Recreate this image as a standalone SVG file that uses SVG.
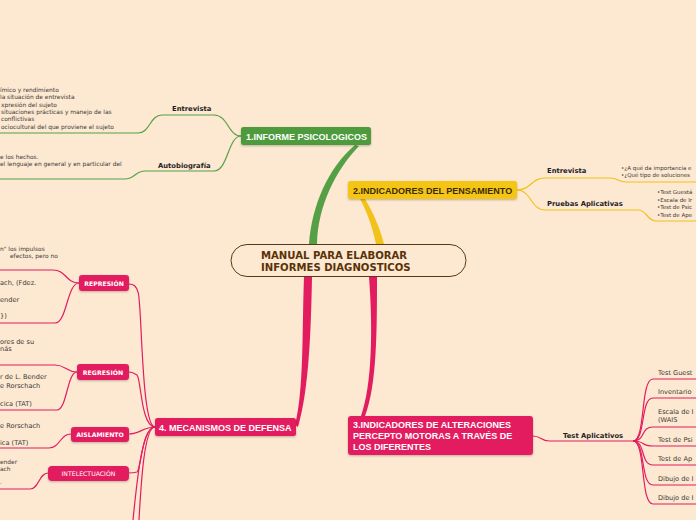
<svg xmlns="http://www.w3.org/2000/svg" width="696" height="520" viewBox="0 0 696 520">
<defs>
<style>
.bg{fill:#fde8d1}
.t{font-family:"DejaVu Sans",Verdana,sans-serif;fill:#3a3a3a}
.s{font-size:5.9px}
.m{font-size:6.6px}
.b{font-family:"DejaVu Sans",Verdana,sans-serif;font-weight:bold;font-size:6.8px;fill:#1e1e1e}
.nt{font-family:"Liberation Sans",Arial,sans-serif;font-weight:bold;font-size:9px;fill:#fff}
.st{font-family:"DejaVu Sans",Verdana,sans-serif;font-weight:bold;font-size:6.2px;fill:#fff;text-anchor:middle}
.g{fill:none;stroke:#55a047;stroke-width:1.2}
.y{fill:none;stroke:#f2c21a;stroke-width:1.2}
.p{fill:none;stroke:#e31c5f;stroke-width:1.2}
.pn{fill:#e31c5f}
</style>
<filter id="sh" x="-10%" y="-20%" width="120%" height="160%"><feDropShadow dx="0" dy="1" stdDeviation="0.8" flood-color="#000" flood-opacity="0.25"/></filter>
</defs>
<rect class="bg" x="0" y="0" width="696" height="520"/>

<g id="connectors">
<path d="M309,244 C312,205 328,168 355,145 L359,146 C336,170 318,205 317,244 Z" fill="#55a047"/>
<path d="M376,244 C372,225 366,210 360,199 L365,199 C373,212 380,228 384,244 Z" fill="#f2c21a"/>
<path d="M369,277 C373,330 372,385 361,416 L365,416 C377,385 377,330 377,277 Z" fill="#e31c5f"/>
<path d="M304,277 C302,330 304,390 295,425 L298,427 C309,390 311,330 312,277 Z" fill="#e31c5f"/>
<path class="g" d="M241,136 C228,136 228,115 214,115 L162,115 C150,115 150,133 138,133 L0,133"/>
<path class="g" d="M241,136 C228,136 228,171 214,171 L145,171 C135,171 135,179 125,179 L0,179"/>
<path class="y" d="M517,190 C531,190 531,178 545,178 L610,178 C618,178 618,182 626,182 L696,182"/>
<path class="y" d="M517,190 C531,190 531,210 545,210 L638,210 C647,210 647,221 656,221 L696,221"/>
<path class="p" d="M533,436 C541,436 541,441 549,441 L633,441"/>
<path class="p" d="M633,441 C646,441 640,379 653,379 L696,379"/>
<path class="p" d="M633,441 C646,441 640,398 653,398 L696,398"/>
<path class="p" d="M633,441 C646,441 640,427 653,427 L696,427"/>
<path class="p" d="M633,441 C646,441 640,446 653,446 L696,446"/>
<path class="p" d="M633,441 C646,441 640,465 653,465 L696,465"/>
<path class="p" d="M633,441 C646,441 640,485 653,485 L696,485"/>
<path class="p" d="M633,441 C646,441 640,504 653,504 L696,504"/>
<path class="p" d="M155,427 C141,427 142,300 138,292 C136,286 134,284 129,284"/>
<path class="p" d="M155,427 C141,427 141,378 137,375 C134,373 132,372 129,372"/>
<path class="p" d="M155,427 C143,427 140,434 129,434"/>
<path class="p" d="M155,427 C142,427 141,470 137,472 C134,473 131,473 128,473"/>
<path class="p" d="M155,427 C142,427 137,480 133,520"/>
<path class="p" d="M155,427 C144,427 141,485 139,520"/>
<path class="p" d="M79,283 C66,283 66,270 53,270 L0,270"/>
<path class="p" d="M79,283 C67,283 67,323 55,323 L0,323"/>
<path class="p" d="M77,372 C66,372 66,365 55,365 L0,365"/>
<path class="p" d="M77,372 C67,372 67,410 57,410 L0,410"/>
<path class="p" d="M71,434 C60,434 60,448 49,448 L0,448"/>
<path class="p" d="M48,473 C39,473 39,489 30,489 L0,489"/>
</g>

<g id="central">
<rect x="231" y="244.5" width="235" height="32" rx="16" fill="none" stroke="#5a3a12" stroke-width="1"/>
<text x="261" y="259" font-family="'DejaVu Sans',Verdana,sans-serif" font-weight="bold" font-size="10.1" fill="#5a3208">MANUAL PARA ELABORAR</text>
<text x="261" y="271" font-family="'DejaVu Sans',Verdana,sans-serif" font-weight="bold" font-size="10.1" fill="#5a3208">INFORMES DIAGNOSTICOS</text>
</g>

<g id="node1">
<rect x="241" y="127" width="130" height="18" rx="2.5" fill="#4d9b3d" filter="url(#sh)"/>
<text class="nt" x="246" y="139.5">1.INFORME PSICOLOGICOS</text>
</g>
<g id="node1-entrevista">
<text class="b" x="172" y="111">Entrevista</text>
<text class="t s" x="0" y="92">ímico y rendimiento</text>
<text class="t s" x="0" y="99">la situación de entrevista</text>
<text class="t s" x="1" y="107">xpresión del sujeto</text>
<text class="t s" x="1" y="114">situaciones prácticas y manejo de las</text>
<text class="t s" x="1" y="121">conflictivas</text>
<text class="t s" x="1" y="129">ociocultural del que proviene el sujeto</text>
</g>
<g id="node1-autobiografia">
<text class="b" x="158" y="168">Autobiografía</text>
<text class="t s" x="0" y="159">e los hechos.</text>
<text class="t s" x="0" y="166">el lenguaje en general y en particular del</text>
</g>

<g id="node2">
<rect x="348" y="181" width="169" height="18" rx="2.5" fill="#f5c519" filter="url(#sh)"/>
<text class="nt" x="353" y="193.5" style="fill:#3a2a08">2.INDICADORES DEL PENSAMIENTO</text>
</g>
<g id="node2-entrevista">
<text class="b" x="547" y="173">Entrevista</text>
<text class="t" font-size="5.5" x="621" y="170">•¿A qué da importancia e</text>
<text class="t" font-size="5.5" x="621" y="177">•¿Qué tipo de soluciones</text>
</g>
<g id="node2-pruebas">
<text class="b" x="547" y="206">Pruebas Aplicativas</text>
<text class="t" font-size="5.5" x="657" y="194">•Test Guestá</text>
<text class="t" font-size="5.5" x="657" y="202">•Escala de Ir</text>
<text class="t" font-size="5.5" x="657" y="209">•Test de Psic</text>
<text class="t" font-size="5.5" x="657" y="217">•Test de Ape</text>
</g>

<g id="node3">
<rect x="348" y="416" width="185" height="39" rx="3" fill="#e31c5f" filter="url(#sh)"/>
<text class="nt" x="353" y="428">3.INDICADORES DE ALTERACIONES</text>
<text class="nt" x="353" y="439">PERCEPTO MOTORAS A TRAVÉS DE</text>
<text class="nt" x="353" y="450">LOS DIFERENTES</text>
</g>
<g id="node3-test">
<text class="b" x="563" y="438">Test Aplicativos</text>
<text class="t m" x="658" y="375">Test Guest</text>
<text class="t m" x="658" y="394">Inventario</text>
<text class="t m" x="658" y="414">Escala de I</text>
<text class="t m" x="658" y="422">(WAIS</text>
<text class="t m" x="658" y="442">Test de Psi</text>
<text class="t m" x="658" y="461">Test de Ap</text>
<text class="t m" x="658" y="481">Dibujo de I</text>
<text class="t m" x="658" y="500">Dibujo de I</text>
</g>

<g id="node4">
<rect x="155" y="418" width="141" height="18" rx="2.5" fill="#e31c5f" filter="url(#sh)"/>
<text class="nt" x="159" y="430.5">4. MECANISMOS DE DEFENSA</text>
</g>

<g id="represion">
<rect x="79" y="275" width="50" height="16" rx="3" class="pn" filter="url(#sh)"/>
<text class="st" x="104" y="285.5">REPRESIÓN</text>
<text class="t s" x="0" y="251">n" los impulsos</text>
<text class="t s" x="10" y="258">efectos, pero no</text>
<text class="t m" x="0" y="285">ach, (Fdez.</text>
<text class="t m" x="0" y="302">ender</text>
<text class="t m" x="0" y="318">})</text>
</g>
<g id="regresion">
<rect x="77" y="364" width="52" height="16" rx="3" class="pn" filter="url(#sh)"/>
<text class="st" x="103" y="374.5">REGRESIÓN</text>
<text class="t m" x="0" y="344">ores de su</text>
<text class="t m" x="0" y="351">nás</text>
<text class="t m" x="0" y="379">r de L. Bender</text>
<text class="t m" x="0" y="388">e Rorschach</text>
<text class="t m" x="0" y="406">cica (TAT)</text>
</g>
<g id="aislamiento">
<rect x="71" y="427" width="58" height="15" rx="3" class="pn" filter="url(#sh)"/>
<text class="st" x="100" y="437">AISLAMIENTO</text>
<text class="t m" x="0" y="428">e Rorschach</text>
<text class="t m" x="0" y="445">ica (TAT)</text>
</g>
<g id="intelectuacion">
<rect x="48" y="466" width="81" height="15" rx="4" class="pn" filter="url(#sh)"/>
<text class="st" x="88.5" y="476" style="font-weight:normal">INTELECTUACIÓN</text>
<text class="t s" x="0" y="464">ender</text>
<text class="t s" x="0" y="471">ach</text>
<text class="t s" x="0" y="484">.</text>
</g>
</svg>
